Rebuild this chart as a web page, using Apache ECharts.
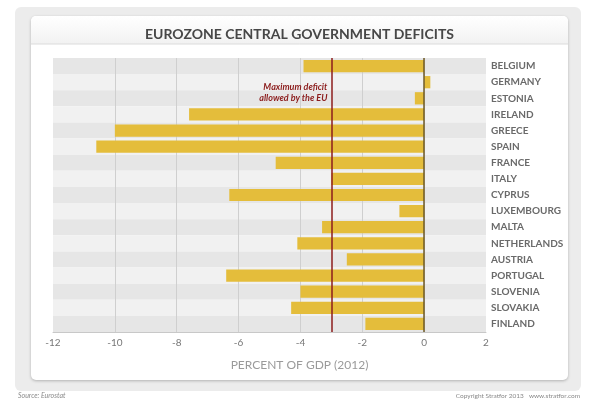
<!DOCTYPE html>
<html>
<head>
<meta charset="utf-8">
<script src="https://cdn.jsdelivr.net/npm/echarts@6/dist/echarts.min.js"></script>
<style>
  html, body { margin: 0; padding: 0; background: #fff; }
  #chart { width: 599px; height: 404px; }
</style>
</head>
<body>
<div id="chart"></div>
<script>
// data (percent of GDP, 2012)
const countries = ['BELGIUM', 'GERMANY', 'ESTONIA', 'IRELAND', 'GREECE', 'SPAIN', 'FRANCE', 'ITALY',
  'CYPRUS', 'LUXEMBOURG', 'MALTA', 'NETHERLANDS', 'AUSTRIA', 'PORTUGAL', 'SLOVENIA', 'SLOVAKIA', 'FINLAND']
const deficits = [-3.9, 0.2, -0.3, -7.6, -10.0, -10.6, -4.8, -3.0,
  -6.3, -0.8, -3.3, -4.1, -2.5, -6.4, -4.0, -4.3, -1.9]
const euLimit = -3
const xMin = -12
const xMax = 2
const xStep = 2

const font = 'Lato, "Open Sans", sans-serif'
const chart = echarts.init(document.getElementById('chart'))

const option = {
  animation: false,
  textStyle: { fontFamily: font },
  title: [
    {
      text: 'EUROZONE CENTRAL GOVERNMENT DEFICITS',
      left: 'center',
      top: 22,
      textStyle: { fontFamily: font, fontSize: 14, fontWeight: 'bold', color: '#474747' }
    },
    {
      text: 'PERCENT OF GDP (2012)',
      left: 'center',
      top: 354,
      textStyle: { fontFamily: font, fontSize: 12, fontWeight: 'normal', color: '#9a9a9a' }
    }
  ],
  graphic: [
    // outer grey panel
    { type: 'rect', z: -10, shape: { x: 15, y: 7, width: 566, height: 384, r: 6 }, style: { fill: '#ececec' } },
    // white card
    {
      type: 'rect', z: -9, shape: { x: 31, y: 16, width: 537, height: 364, r: 5 },
      style: { fill: '#fff', shadowBlur: 3, shadowColor: 'rgba(0,0,0,0.25)', shadowOffsetY: 1 }
    },
    // title band
    {
      type: 'rect', z: -8, shape: { x: 31, y: 16, width: 537, height: 28, r: [5, 5, 0, 0] },
      style: {
        fill: new echarts.graphic.LinearGradient(0, 0, 0, 1, [
          { offset: 0, color: '#ffffff' }, { offset: 1, color: '#f2f2f2' }
        ])
      }
    },
    { type: 'line', z: -7, shape: { x1: 31, y1: 44, x2: 568, y2: 44 }, style: { stroke: '#dcdcdc', lineWidth: 1 } },
    {
      type: 'text', left: 18, top: 392,
      style: { text: 'Source: Eurostat', font: 'italic 7px ' + font, fill: '#8a8a8a' }
    },
    {
      type: 'text', right: 19, top: 392,
      style: { text: 'Copyright Stratfor 2013   www.stratfor.com', font: '6.5px ' + font, fill: '#8a8a8a' }
    }
  ],
  grid: { left: 53, right: 113, top: 58, bottom: 72 },
  xAxis: {
    type: 'value',
    min: xMin,
    max: xMax,
    interval: xStep,
    axisLine: { show: true, lineStyle: { color: '#c8c8c8' } },
    axisTick: { show: false },
    axisLabel: { color: '#777', fontSize: 10, margin: 6, fontFamily: font },
    splitLine: { show: true, showMinLine: false, showMaxLine: false, lineStyle: { color: '#cfcfcf', width: 1 } }
  },
  yAxis: {
    type: 'category',
    data: countries,
    inverse: true,
    position: 'right',
    axisLine: { show: false },
    axisTick: { show: false },
    axisLabel: { color: '#6a6a6a', fontSize: 10, fontWeight: 'bold', margin: 5, align: 'left', fontFamily: font },
    splitLine: { show: false },
    splitArea: { show: true, areaStyle: { color: ['#e6e6e6', '#f1f1f1'] } }
  },
  series: [
    {
      type: 'bar',
      data: deficits,
      barCategoryGap: '24%',
      itemStyle: { color: '#e4bd3b' },
      markLine: {
        silent: true,
        symbol: 'none',
        label: { show: false },
        data: [
          { xAxis: euLimit, lineStyle: { color: '#8c1d1d', width: 1.5, type: 'solid' } },
          { xAxis: 0, lineStyle: { color: '#6e5a26', width: 1.5, type: 'solid' } }
        ]
      },
      markPoint: {
        silent: true,
        symbol: 'circle',
        symbolSize: 0,
        data: [{ coord: [euLimit, 'ESTONIA'] }],
        label: {
          show: true,
          position: 'left',
          distance: 4,
          offset: [0, -6],
          align: 'right',
          formatter: 'Maximum deficit\nallowed by the EU',
          fontFamily: font,
          fontStyle: 'italic',
          fontWeight: 'bold',
          fontSize: 9,
          lineHeight: 11,
          color: '#8c1d1d'
        }
      }
    }
  ]
}

chart.setOption(option)
</script>
</body>
</html>
